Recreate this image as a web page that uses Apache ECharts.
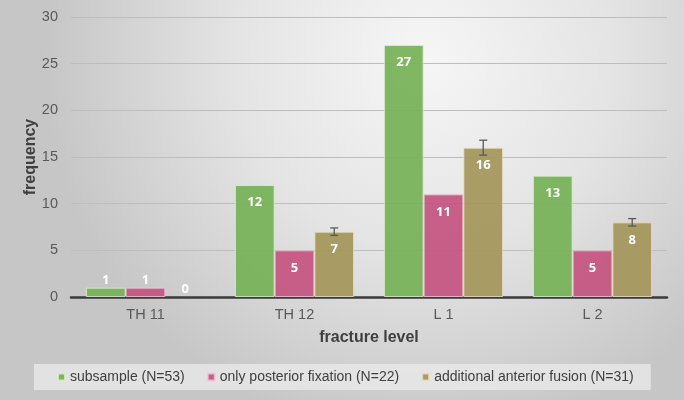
<!DOCTYPE html>
<html>
<head>
<meta charset="utf-8">
<script src="https://cdn.jsdelivr.net/npm/echarts@6/dist/echarts.min.js"></script>
<style>html,body{margin:0;padding:0;}#c{width:684px;height:400px;}</style>
</head>
<body>
<div id="c"></div>
<script>
const categories = ['TH 11', 'TH 12', 'L 1', 'L 2'];
const seriesNames = ['subsample (N=53)', 'only posterior fixation (N=22)', 'additional anterior fusion (N=31)'];
const subsample = [1, 12, 27, 13];
const posterior = [1, 5, 11, 5];
const anterior = [0, 7, 16, 8];
const anteriorError = [0, 0.4, 0.8, 0.4];
const yTicks = [0, 5, 10, 15, 20, 25, 30];

const colors = ['rgba(118,178,86,0.93)', 'rgba(196,84,128,0.93)', 'rgba(164,150,90,0.93)'];
const borders = ['rgba(220,240,210,0.8)', 'rgba(240,200,215,0.8)', 'rgba(235,228,200,0.8)'];

function barSeries(name, data, idx) {
  return {
    name: name,
    type: 'bar',
    barGap: '0%',
    barCategoryGap: '20%',
    itemStyle: { color: colors[idx], borderColor: borders[idx], borderWidth: 1 },
    data: data.map(v => ({
      value: v,
      itemStyle: v === 0 ? { borderWidth: 0 } : {},
      label: v <= 1 ? { position: 'top', distance: 1 } : {}
    })),
    label: {
      show: true,
      position: 'insideTop',
      distance: 11,
      color: '#ffffff',
      fontFamily: 'Open Sans',
      fontWeight: 'bold',
      fontSize: 13
    }
  };
}

const chart = echarts.init(document.getElementById('c'), null, { renderer: 'canvas' });
chart.setOption({
  animation: false,
  backgroundColor: {
    type: 'radial', x: 0.62, y: 0.15, r: 0.95,
    colorStops: [
      { offset: 0, color: '#f6f6f6' },
      { offset: 0.5, color: '#e4e4e4' },
      { offset: 1, color: '#c6c6c6' }
    ]
  },
  grid: { left: 71, right: 17, top: 17, bottom: 103 },
  legend: {
    left: 34, top: 364,
    padding: [6, 17, 6, 23],
    backgroundColor: 'rgba(235,235,235,0.75)',
    itemGap: 22,
    itemWidth: 7, itemHeight: 7,
    icon: 'rect',
    textStyle: { color: '#404040', fontFamily: 'Liberation Sans', fontSize: 14 },
    data: seriesNames
  },
  xAxis: {
    type: 'category',
    data: categories,
    name: 'fracture level',
    nameLocation: 'middle',
    nameGap: 33,
    nameMoveOverlap: false,
    nameTextStyle: { color: '#404040', fontFamily: 'Liberation Sans', fontWeight: 'bold', fontSize: 16 },
    axisLine: { lineStyle: { color: '#3a3a3a', width: 2.5 } },
    axisTick: { show: false },
    axisLabel: { color: '#595959', fontFamily: 'Liberation Sans', fontSize: 14.5, margin: 10 }
  },
  yAxis: {
    type: 'value',
    min: yTicks[0], max: yTicks[yTicks.length - 1], interval: 5,
    name: 'frequency',
    nameLocation: 'middle',
    nameGap: 32,
    nameMoveOverlap: false,
    nameTextStyle: { color: '#404040', fontFamily: 'Liberation Sans', fontWeight: 'bold', fontSize: 16 },
    axisLine: { show: false },
    axisTick: { show: false },
    axisLabel: { color: '#595959', fontFamily: 'Liberation Sans', fontSize: 14.5, margin: 13 },
    splitLine: { lineStyle: { color: '#bdbdbd', width: 1.2 } }
  },
  series: [
    barSeries(seriesNames[0], subsample, 0),
    barSeries(seriesNames[1], posterior, 1),
    barSeries(seriesNames[2], anterior, 2),
    {
      type: 'custom',
      name: 'error',
      z: 10,
      data: anterior.map((v, i) => [i, v, anteriorError[i]]),
      renderItem: function (params, api) {
        const err = api.value(2);
        if (!err) return null;
        const idx = api.value(0);
        const v = api.value(1);
        const band = api.size([1, 0])[0];
        const off = band * 0.8 / 3;
        const top = api.coord([idx, v + err]);
        const bot = api.coord([idx, v - err]);
        const x = top[0] + off;
        const style = { stroke: '#595959', lineWidth: 1.3 };
        return {
          type: 'group',
          children: [
            { type: 'line', shape: { x1: x, y1: top[1], x2: x, y2: bot[1] }, style: style },
            { type: 'line', shape: { x1: x - 4, y1: top[1], x2: x + 4, y2: top[1] }, style: style },
            { type: 'line', shape: { x1: x - 4, y1: bot[1], x2: x + 4, y2: bot[1] }, style: style }
          ]
        };
      }
    }
  ]
});
</script>
</body>
</html>
